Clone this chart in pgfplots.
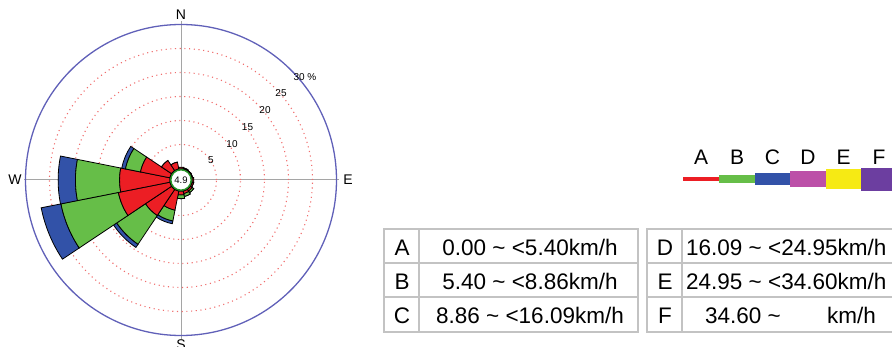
\documentclass[border=0pt]{standalone}
\usepackage{fontspec}
\setmainfont{Liberation Sans}
\usepackage{pgfplots}
\pgfplotsset{compat=1.18}

\definecolor{cA}{RGB}{236,30,36}
\definecolor{cB}{RGB}{102,190,72}
\definecolor{cC}{RGB}{50,82,168}
\definecolor{cD}{RGB}{188,80,168}
\definecolor{cE}{RGB}{246,234,20}
\definecolor{cF}{RGB}{108,62,160}
\definecolor{ringred}{RGB}{240,110,110}
\definecolor{outerblue}{RGB}{96,96,184}
\definecolor{axgray}{RGB}{165,165,165}
\definecolor{calmgreen}{RGB}{40,150,40}
\definecolor{tabgray}{RGB}{195,195,195}

% annular sector: radius(px) = 11.5 + 4.8 * percent, width 22.5 deg
\def\sectorpath#1#2#3{%
  \pgfmathsetmacro\rA{11.5+4.8*#1}%
  \pgfmathsetmacro\rB{11.5+4.8*#2}%
  \pgfmathsetmacro\tA{90-#3-11.25}%
  \pgfmathsetmacro\tB{90-#3+11.25}%
  \pgfpathmoveto{\pgfpointpolar{\tA}{\rA pt}}%
  \pgfpathlineto{\pgfpointpolar{\tA}{\rB pt}}%
  \pgfpatharc{\tA}{\tB}{\rB pt}%
  \pgfpathlineto{\pgfpointpolar{\tB}{\rA pt}}%
  \pgfpatharc{\tB}{\tA}{\rA pt}%
  \pgfpathclose}
\pgfdeclareplotmark{rosepetal}{%
  \pgfkeys{/pgf/fpu=false}%
  \pgfsetdash{}{0pt}%
  \pgfsetstrokecolor{black}\pgfsetlinewidth{0.8pt}%
  \pgfsetfillcolor{cC}\sectorpath{\segB}{\segC}{\segDir}\pgfusepathqfillstroke
  \pgfsetfillcolor{cB}\sectorpath{\segA}{\segB}{\segDir}\pgfusepathqfillstroke
  \pgfsetfillcolor{cA}\sectorpath{0}{\segA}{\segDir}\pgfusepathqfillstroke
}

\begin{document}
\begin{tikzpicture}
\begin{axis}[
  scale only axis, width=892pt, height=347pt,
  xmin=0, xmax=892, ymin=0, ymax=347, y dir=reverse,
  axis lines=none, clip=false,
]
% compass axes
\draw[axgray, line width=1pt] (axis cs:181,21) -- (axis cs:181,339);
\draw[axgray, line width=1pt] (axis cs:24,180) -- (axis cs:339,180);

% petals: cumulative percentages per direction (bearing, deg)
% a = class A, b = A+B, c = A+B+C
\addplot[only marks, mark=rosepetal,
  visualization depends on={value \thisrow{dir} \as \segDir},
  visualization depends on={value \thisrow{a} \as \segA},
  visualization depends on={value \thisrow{b} \as \segB},
  visualization depends on={value \thisrow{c} \as \segC}]
  table[x=cx, y=cy] {
cx  cy  dir   a    b    c
181 180 0     0.3  0.3  0.3
181 180 22.5  0.2  0.2  0.2
181 180 45    0.1  0.1  0.1
181 180 67.5  0.1  0.1  0.1
181 180 90    0.3  0.3  0.3
181 180 112.5 0.3  0.3  0.3
181 180 135   0.4  0.8  0.8
181 180 157.5 0.5  1.1  1.1
181 180 180   0.7  1.5  1.5
181 180 202.5 4.0  6.3  6.9
181 180 225   6.5  13.7 14.5
181 180 247.5 10.9 23.1 27.3
181 180 270   10.4 19.6 23.2
181 180 292.5 6.2  9.4  10.2
181 180 315   2.5  2.5  2.5
181 180 337.5 1.4  1.4  1.4
};

% dotted rings
\draw[ringred, line width=1.1pt, dash pattern=on 1.1pt off 3.6pt] (axis cs:181,180) circle[radius=35.5pt];
\draw[ringred, line width=1.1pt, dash pattern=on 1.1pt off 3.6pt] (axis cs:181,180) circle[radius=59.5pt];
\draw[ringred, line width=1.1pt, dash pattern=on 1.1pt off 3.6pt] (axis cs:181,180) circle[radius=83.5pt];
\draw[ringred, line width=1.1pt, dash pattern=on 1.1pt off 3.6pt] (axis cs:181,180) circle[radius=107.5pt];
\draw[ringred, line width=1.1pt, dash pattern=on 1.1pt off 3.6pt] (axis cs:181,180) circle[radius=131.5pt];
\draw[outerblue, line width=1.3pt] (axis cs:181,180) circle[radius=155.5pt];

% calm circle
\draw[calmgreen, line width=2pt, fill=white] (axis cs:181,180) circle[radius=10.5pt];
\node[font=\fontsize{9.5}{11}\selectfont, inner sep=0pt] at (axis cs:181,180) {4.9};

% ring labels
\node[font=\fontsize{10}{12}\selectfont, inner sep=0pt] at (axis cs:211,160) {5};
\node[font=\fontsize{10}{12}\selectfont, inner sep=0pt] at (axis cs:232,144) {10};
\node[font=\fontsize{10}{12}\selectfont, inner sep=0pt] at (axis cs:247.5,127) {15};
\node[font=\fontsize{10}{12}\selectfont, inner sep=0pt] at (axis cs:265,110) {20};
\node[font=\fontsize{10}{12}\selectfont, inner sep=0pt] at (axis cs:281,93) {25};
\node[font=\fontsize{10}{12}\selectfont, inner sep=0pt] at (axis cs:305,77) {30 \%};

% compass letters
\node[font=\fontsize{14}{16}\selectfont, inner sep=0pt, anchor=base] at (axis cs:181,19.5) {N};
\node[font=\fontsize{14}{16}\selectfont, inner sep=0pt, anchor=base] at (axis cs:15,185) {W};
\node[font=\fontsize{14}{16}\selectfont, inner sep=0pt, anchor=base] at (axis cs:348,185) {E};
\node[font=\fontsize{14}{16}\selectfont, inner sep=0pt, anchor=base] at (axis cs:181,349.5) {S};

% legend bars
\fill[cA] (axis cs:683,177.5) rectangle (axis cs:719,181.5);
\fill[cB] (axis cs:719,175.5) rectangle (axis cs:755,183.5);
\fill[cC] (axis cs:755,173.5) rectangle (axis cs:790,185.5);
\fill[cD] (axis cs:790,171.5) rectangle (axis cs:826,187.5);
\fill[cE] (axis cs:826,169.5) rectangle (axis cs:861,189.5);
\fill[cF] (axis cs:861,168) rectangle (axis cs:905,191);
\node[font=\fontsize{21}{24}\selectfont, inner sep=0pt, anchor=base] at (axis cs:701,165) {A};
\node[font=\fontsize{21}{24}\selectfont, inner sep=0pt, anchor=base] at (axis cs:737,165) {B};
\node[font=\fontsize{21}{24}\selectfont, inner sep=0pt, anchor=base] at (axis cs:772.5,165) {C};
\node[font=\fontsize{21}{24}\selectfont, inner sep=0pt, anchor=base] at (axis cs:808,165) {D};
\node[font=\fontsize{21}{24}\selectfont, inner sep=0pt, anchor=base] at (axis cs:843.5,165) {E};
\node[font=\fontsize{21}{24}\selectfont, inner sep=0pt, anchor=base] at (axis cs:879,165) {F};

% tables
\draw[tabgray, line width=1.4pt] (axis cs:384,229) rectangle (axis cs:638,332);
\draw[tabgray, line width=1.4pt] (axis cs:384,263) -- (axis cs:638,263);
\draw[tabgray, line width=1.4pt] (axis cs:384,297) -- (axis cs:638,297);
\draw[tabgray, line width=1.4pt] (axis cs:419,229) -- (axis cs:419,332);
\draw[tabgray, line width=1.4pt] (axis cs:647,229) rectangle (axis cs:910,332);
\draw[tabgray, line width=1.4pt] (axis cs:647,263) -- (axis cs:910,263);
\draw[tabgray, line width=1.4pt] (axis cs:647,297) -- (axis cs:910,297);
\draw[tabgray, line width=1.4pt] (axis cs:682,229) -- (axis cs:682,332);

\node[font=\fontsize{22.5}{26}\selectfont, inner sep=0pt, anchor=base] at (axis cs:402,256) {A};
\node[font=\fontsize{22.5}{26}\selectfont, inner sep=0pt, anchor=base] at (axis cs:402,290) {B};
\node[font=\fontsize{22.5}{26}\selectfont, inner sep=0pt, anchor=base] at (axis cs:402,324) {C};
\node[font=\fontsize{22.5}{26}\selectfont, inner sep=0pt, anchor=base] at (axis cs:530,256) {0.00 \textasciitilde{} <5.40km/h};
\node[font=\fontsize{22.5}{26}\selectfont, inner sep=0pt, anchor=base] at (axis cs:530,290) {5.40 \textasciitilde{} <8.86km/h};
\node[font=\fontsize{22.5}{26}\selectfont, inner sep=0pt, anchor=base] at (axis cs:530,324) {8.86 \textasciitilde{} <16.09km/h};

\node[font=\fontsize{22.5}{26}\selectfont, inner sep=0pt, anchor=base] at (axis cs:665,256) {D};
\node[font=\fontsize{22.5}{26}\selectfont, inner sep=0pt, anchor=base] at (axis cs:665,290) {E};
\node[font=\fontsize{22.5}{26}\selectfont, inner sep=0pt, anchor=base] at (axis cs:665,324) {F};
\node[font=\fontsize{22.5}{26}\selectfont, inner sep=0pt, anchor=base west] at (axis cs:686,256) {16.09 \textasciitilde{} <24.95km/h};
\node[font=\fontsize{22.5}{26}\selectfont, inner sep=0pt, anchor=base west] at (axis cs:686,290) {24.95 \textasciitilde{} <34.60km/h};
\node[font=\fontsize{22.5}{26}\selectfont, inner sep=0pt, anchor=base west] at (axis cs:705,324) {34.60 \textasciitilde};
\node[font=\fontsize{22.5}{26}\selectfont, inner sep=0pt, anchor=base west] at (axis cs:827,324) {km/h};
\end{axis}
\pgfresetboundingbox
\useasboundingbox (current axis.south west) rectangle (current axis.north east);
\end{tikzpicture}
\end{document}
